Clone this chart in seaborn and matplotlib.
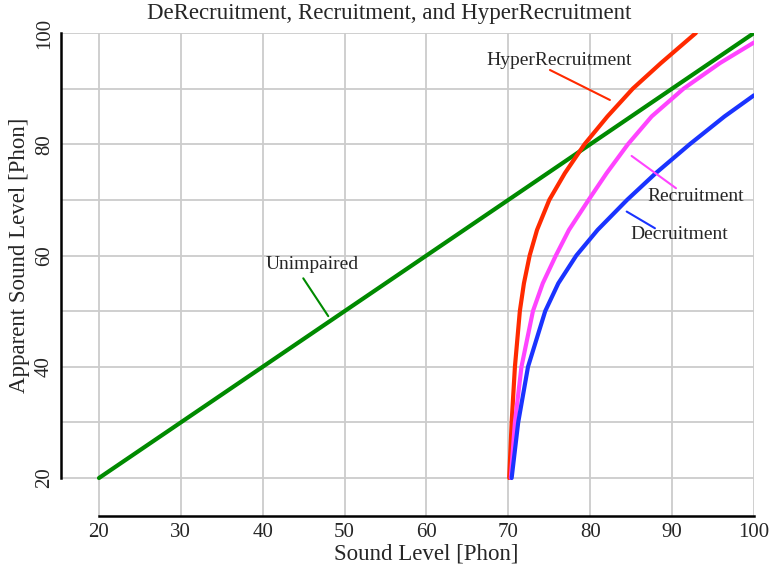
import matplotlib
matplotlib.use("Agg")
import matplotlib.pyplot as plt
import seaborn as sns
import pandas as pd

# valores (Phon)
unimp_x = [20, 40, 60, 80, 100]
unimp_y = [20, 40, 60, 80, 100]

hyper_x = [70.1, 70.4, 70.8, 71.4, 71.9, 72.6, 73.5, 75.0, 76.9, 79.3, 82.1, 85.2, 88.6, 92.9]
hyper_y = [20, 30, 40, 50, 55, 60, 64.6, 70, 74.8, 80, 85, 90, 94.55, 100]

recr_x = [70.3, 70.8, 71.6, 73.0, 74.2, 75.8, 77.4, 79.8, 82.0, 84.6, 87.5, 91.4, 95.85, 100]
recr_y = [20, 30, 40, 50, 55, 60, 64.6, 70, 74.8, 80, 85, 90, 94.6, 98.3]

decr_x = [70.4, 71.2, 72.4, 74.5, 76.1, 78.3, 80.9, 84.5, 88.0, 92.15, 96.4, 100]
decr_y = [20, 30, 40, 50, 55, 60, 64.6, 70, 74.8, 80, 85, 88.8]

x_ticks = [20, 30, 40, 50, 60, 70, 80, 90, 100]
y_ticks = [20, 40, 60, 80, 100]
y_minor = [30, 50, 70, 90]

sns.set_style("white")
plt.rcParams['font.family'] = ['Liberation Serif', 'DejaVu Serif']

fig = plt.figure(figsize=(7.74, 5.69), dpi=100)
ax = fig.add_axes([61/774, 53/569, 693/774, 483/569])

curvas = [
    (unimp_x, unimp_y, "#008a00"),
    (hyper_x, hyper_y, "#ff2a00"),
    (recr_x, recr_y, "#ff44ff"),
    (decr_x, decr_y, "#1a33ff"),
]
for xs, ys, col in curvas:
    d = pd.DataFrame({"x": xs, "y": ys})
    sns.lineplot(data=d, x="x", y="y", ax=ax, color=col, linewidth=3.0,
                 sort=False, estimator=None, zorder=3)

ax.set_xlim(15.36, 100)
ax.set_ylim(13.17, 100)
ax.set_xticks(x_ticks)
ax.set_yticks(y_ticks)
ax.set_yticks(y_minor, minor=True)
ax.grid(True, which="both", color="#cccccc", linewidth=1.3, zorder=0)
ax.tick_params(axis="both", which="major", length=3, width=1.2, color="black",
               labelsize=15, pad=2)
ax.tick_params(axis="y", which="minor", length=0)
for lab in ax.get_yticklabels():
    lab.set_rotation(90)
    lab.set_va("center")

for s in ["top", "right"]:
    ax.spines[s].set_visible(False)
ax.spines["left"].set_bounds(20, 100)
ax.spines["bottom"].set_bounds(20, 100)
for s in ["left", "bottom"]:
    ax.spines[s].set_linewidth(1.8)
    ax.spines[s].set_color("black")

ax.set_xlabel("Sound Level [Phon]", fontsize=16.5)
ax.set_ylabel("Apparent Sound Level [Phon]", fontsize=16.5)
ax.xaxis.set_label_coords((60 - 15.36) / 84.64, -0.057)
ax.yaxis.set_label_coords(-0.045, (60 - 13.17) / 86.83)
ax.set_title("DeRecruitment, Recruitment, and HyperRecruitment", fontsize=16.5,
             pad=10, x=(389 - 61) / 693)

# etiquetas con lineas
etiquetas = [
    ("HyperRecruitment", (76.2, 95.1), [(75.08, 93.35), (82.4, 87.96)], "#ff2a00"),
    ("Recruitment", (92.85, 70.6), [(85.05, 77.9), (90.47, 72.1)], "#ff44ff"),
    ("Decruitment", (90.85, 63.7), [(84.45, 67.9), (87.9, 64.9)], "#1a33ff"),
    ("Unimpaired", (46.0, 58.3), [(44.95, 55.9), (48.0, 49.1)], "#008a00"),
]
for txt, pos, seg, col in etiquetas:
    ax.text(pos[0], pos[1], txt, fontsize=14, ha="center", va="center", zorder=4)
    ax.plot([seg[0][0], seg[1][0]], [seg[0][1], seg[1][1]], color=col,
            linewidth=1.5, zorder=4)

fig.savefig("out.png", dpi=100)
